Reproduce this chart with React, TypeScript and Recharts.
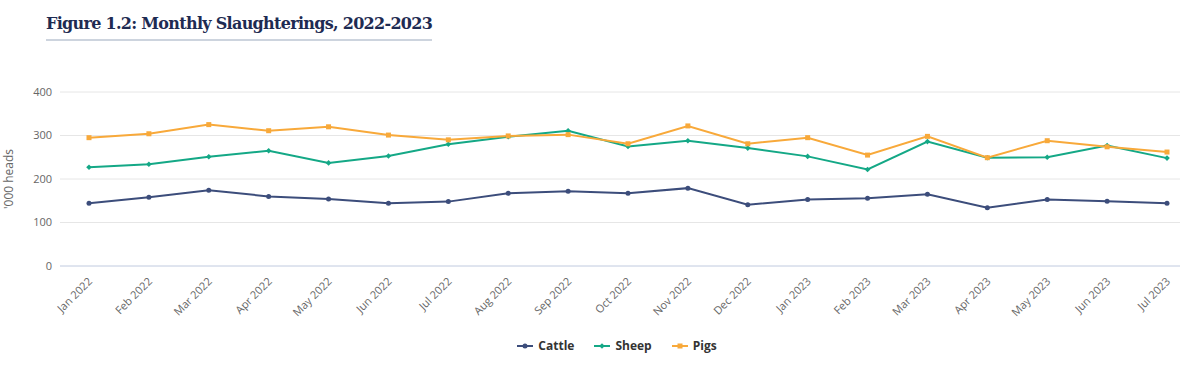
import { LineChart, Line, XAxis, YAxis, CartesianGrid, Legend } from "recharts";

const months = [
  "Jan 2022", "Feb 2022", "Mar 2022", "Apr 2022", "May 2022", "Jun 2022",
  "Jul 2022", "Aug 2022", "Sep 2022", "Oct 2022", "Nov 2022", "Dec 2022",
  "Jan 2023", "Feb 2023", "Mar 2023", "Apr 2023", "May 2023", "Jun 2023", "Jul 2023",
];
const cattle = [144, 158, 174, 160, 154, 144, 148, 167, 172, 167, 179, 141, 153, 156, 165, 134, 153, 149, 144];
const sheep = [227, 234, 251, 265, 237, 253, 280, 297, 311, 275, 288, 271, 252, 222, 286, 249, 250, 277, 248];
const pigs = [295, 304, 325, 311, 320, 301, 290, 299, 302, 281, 322, 281, 295, 255, 298, 249, 288, 274, 262];
const yTicks = [0, 100, 200, 300, 400];

const COLORS = { cattle: "#3c4d7b", sheep: "#14a886", pigs: "#f8a93a" };
const AXIS_FONT = "'Open Sans', 'DejaVu Sans', sans-serif";

const data = months.map((month, i) => ({
  month,
  cattle: cattle[i],
  sheep: sheep[i],
  pigs: pigs[i],
}));

const CircleDot = (props: any) => {
  const { cx, cy } = props;
  if (cx == null || cy == null) return null;
  return <circle cx={cx} cy={cy} r={2.5} fill={COLORS.cattle} />;
};

const DiamondDot = (props: any) => {
  const { cx, cy } = props;
  if (cx == null || cy == null) return null;
  const s = 2.8;
  return (
    <path
      d={`M${cx},${cy - s}L${cx + s},${cy}L${cx},${cy + s}L${cx - s},${cy}Z`}
      fill={COLORS.sheep}
    />
  );
};

const SquareDot = (props: any) => {
  const { cx, cy } = props;
  if (cx == null || cy == null) return null;
  return <rect x={cx - 2.5} y={cy - 2.5} width={5} height={5} fill={COLORS.pigs} />;
};

const MonthTick = (props: any) => {
  const { x, y, payload } = props;
  const tx = x + 4;
  const ty = y + 8;
  return (
    <text
      x={tx}
      y={ty}
      transform={`rotate(-45, ${tx}, ${ty})`}
      textAnchor="end"
      fontSize={11}
      fill="#666666"
      fontFamily={AXIS_FONT}
    >
      {payload.value}
    </text>
  );
};

const YTitle = (props: any) => {
  const { viewBox } = props;
  const cy = viewBox.y + viewBox.height / 2;
  return (
    <text
      x={13}
      y={cy}
      transform={`rotate(-90, 13, ${cy})`}
      textAnchor="middle"
      fontSize={12}
      fill="#666666"
      fontFamily={AXIS_FONT}
    >
      '000 heads
    </text>
  );
};

const legendItems = [
  { key: "cattle", label: "Cattle", marker: "circle" },
  { key: "sheep", label: "Sheep", marker: "diamond" },
  { key: "pigs", label: "Pigs", marker: "square" },
];

const LegendContent = () => (
  <div style={{ display: "flex", justifyContent: "center", gap: 20, paddingLeft: 54, fontFamily: AXIS_FONT }}>
    {legendItems.map((item) => {
      const c = (COLORS as any)[item.key];
      return (
        <div key={item.key} style={{ display: "flex", alignItems: "center" }}>
          <svg width={16} height={12} style={{ marginRight: 5 }}>
            <line x1={0} y1={6} x2={16} y2={6} stroke={c} strokeWidth={2} />
            {item.marker === "circle" && <circle cx={8} cy={6} r={2.5} fill={c} />}
            {item.marker === "diamond" && <path d="M8,3.2L10.8,6L8,8.8L5.2,6Z" fill={c} />}
            {item.marker === "square" && <rect x={5.5} y={3.5} width={5} height={5} fill={c} />}
          </svg>
          <span style={{ fontSize: 12, fontWeight: 700, color: "#333333" }}>{item.label}</span>
        </div>
      );
    })}
  </div>
);

export default function App() {
  return (
    <div style={{ position: "relative", width: 1191, height: 371, background: "#fff" }}>
      <style>{`body{margin:0}`}</style>
      <div
        style={{
          position: "absolute",
          left: 46,
          top: 14,
          width: 386,
          paddingBottom: 6,
          borderBottom: "2px solid #cdd4de",
          fontFamily: "'DejaVu Serif', serif",
          fontWeight: 700,
          fontSize: 16,
          letterSpacing: -0.7,
          color: "#1e2b52",
          whiteSpace: "nowrap",
        }}
      >
        Figure 1.2: Monthly Slaughterings, 2022-2023
      </div>
      <LineChart
        width={1191}
        height={371}
        data={data}
        margin={{ top: 92, right: 11, bottom: 17, left: 0 }}
      >
        <CartesianGrid vertical={false} stroke="#e6e6e6" />
        <XAxis
          dataKey="month"
          interval={0}
          height={71}
          padding={{ left: 29, right: 13 }}
          axisLine={{ stroke: "#ccd6eb" }}
          tickLine={false}
          tick={<MonthTick />}
        />
        <YAxis
          width={60}
          domain={[0, 400]}
          ticks={yTicks}
          axisLine={false}
          tickLine={false}
          tick={{ fontSize: 11, fill: "#666666", fontFamily: AXIS_FONT }}
          label={<YTitle />}
        />
        <Legend verticalAlign="bottom" content={<LegendContent />} />
        <Line
          dataKey="cattle"
          name="Cattle"
          stroke={COLORS.cattle}
          strokeWidth={2}
          dot={<CircleDot />}
          activeDot={false}
          isAnimationActive={false}
        />
        <Line
          dataKey="sheep"
          name="Sheep"
          stroke={COLORS.sheep}
          strokeWidth={2}
          dot={<DiamondDot />}
          activeDot={false}
          isAnimationActive={false}
        />
        <Line
          dataKey="pigs"
          name="Pigs"
          stroke={COLORS.pigs}
          strokeWidth={2}
          dot={<SquareDot />}
          activeDot={false}
          isAnimationActive={false}
        />
      </LineChart>
    </div>
  );
}
